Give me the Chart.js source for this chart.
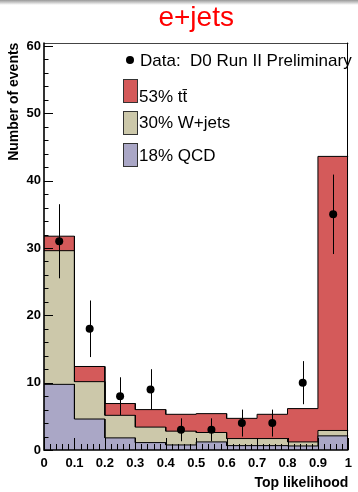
<!DOCTYPE html>
<html lang="en">
<head>
    <meta charset="UTF-8">
    <title>e+jets top likelihood</title>
    <script src="https://cdn.jsdelivr.net/npm/chart.js@4"></script>
    <style>
        body { margin: 0; background: #fff; font-family: "Liberation Sans", Arial, sans-serif; }
        .wrap { position: relative; width: 358px; height: 492px; }
        .shade { position: absolute; left: 0; top: 0; width: 358px; height: 5px; background: linear-gradient(#999, rgba(255,255,255,0)); }
        .leg { position: absolute; font-size: 17px; line-height: 17px; color: #000; white-space: pre; }
        .box { position: absolute; width: 13px; height: 22px; border: 1px solid #333; }
        .dot { position: absolute; width: 8px; height: 8px; border-radius: 50%; background: #000; }
    </style>
</head>
<body>
    <div class="wrap">
        <canvas id="lhChart"></canvas>
        <div class="shade"></div>
        <div class="dot" style="left:126px; top:56px;"></div>
        <div class="leg" style="left:140px; top:52px;">Data:  D0 Run II Preliminary</div>
        <div class="box" style="left:123px; top:79px; background:#d45a5a;"></div>
        <div class="leg" style="left:139px; top:88px;">53% tt&#772;</div>
        <div class="box" style="left:123px; top:111px; background:#ccc8aa;"></div>
        <div class="leg" style="left:139px; top:114px;">30% W+jets</div>
        <div class="box" style="left:123px; top:143px; background:#aaa7c6;"></div>
        <div class="leg" style="left:139px; top:147px;">18% QCD</div>
    </div>

    <script>
        // bins of the likelihood, 0..1 in steps of 0.1
        const binEdges = [0, 0.1, 0.2, 0.3, 0.4, 0.5, 0.6, 0.7, 0.8, 0.9, 1.0];
        // stacked contributions per bin (events)
        const qcd   = [9.75, 4.6, 1.8, 1.1, 0.75, 1.2, 0.65, 0.65, 0.6, 2.1];
        const wjets = [19.85, 5.55, 3.35, 2.3, 2.05, 1.4, 1.05, 1.05, 0.6, 0.8];
        const ttbar = [2.15, 2.25, 1.75, 2.6, 2.5, 2.8, 3.0, 3.6, 4.95, 40.7];
        // data points and their error bars
        const dataCounts = [31, 18, 8, 9, 3, 3, 4, 4, 10, 35];
        const dataErrors = [5.5, 4.2, 2.8, 3.0, 1.7, 1.7, 2.0, 2.0, 3.2, 5.9];
        const xTicks = [0, 0.1, 0.2, 0.3, 0.4, 0.5, 0.6, 0.7, 0.8, 0.9, 1];
        const yTicks = [0, 10, 20, 30, 40, 50, 60];

        const qcdTop = qcd.slice();
        const wTop = qcd.map((v, i) => v + wjets[i]);
        const ttTop = wTop.map((v, i) => v + ttbar[i]);

        function stepPoints(vals) {
            const pts = [];
            vals.forEach((v, i) => {
                pts.push({x: binEdges[i], y: v});
                pts.push({x: binEdges[i + 1], y: v});
            });
            return pts;
        }

        const dataPoints = dataCounts.map((n, i) => ({x: (binEdges[i] + binEdges[i + 1]) / 2, y: n}));

        Chart.defaults.font.family = '"Liberation Sans", Arial, sans-serif';
        Chart.defaults.color = '#000';

        // error bars go under the markers
        const errorBars = {
            id: 'errorBars',
            beforeDatasetDraw(chart, args) {
                if (args.index !== 0) return;
                const ctx = chart.ctx;
                const xs = chart.scales.x, ys = chart.scales.y;
                ctx.save();
                ctx.strokeStyle = '#000';
                ctx.lineWidth = 1;
                dataPoints.forEach((p, i) => {
                    const px = Math.round(xs.getPixelForValue(p.x)) + 0.5;
                    ctx.beginPath();
                    ctx.moveTo(px, ys.getPixelForValue(p.y + dataErrors[i]));
                    ctx.lineTo(px, ys.getPixelForValue(p.y - dataErrors[i]));
                    ctx.stroke();
                });
                ctx.restore();
            }
        };

        // ROOT style frame with ticks pointing inwards
        const frameTicks = {
            id: 'frameTicks',
            afterDraw(chart) {
                const ctx = chart.ctx;
                const a = chart.chartArea;
                const xs = chart.scales.x, ys = chart.scales.y;
                ctx.save();
                ctx.strokeStyle = '#000';
                ctx.lineWidth = 1;
                ctx.beginPath();
                for (let k = 0; k <= 50; k++) {
                    const px = Math.round(xs.getPixelForValue(k * 0.02)) + 0.5;
                    const len = k % 5 === 0 ? 12 : 6;
                    ctx.moveTo(px, a.bottom);
                    ctx.lineTo(px, a.bottom - len);
                }
                for (let k = 0; k <= 30; k++) {
                    const py = Math.round(ys.getPixelForValue(k * 2)) + 0.5;
                    const len = k % 5 === 0 ? 9 : 4.5;
                    ctx.moveTo(a.left, py);
                    ctx.lineTo(a.left + len, py);
                }
                ctx.stroke();
                ctx.strokeStyle = '#444';
                ctx.beginPath();
                ctx.moveTo(a.left, Math.round(a.top) + 0.5);
                ctx.lineTo(a.right, Math.round(a.top) + 0.5);
                ctx.stroke();
                ctx.strokeStyle = '#000';
                ctx.beginPath();
                ctx.moveTo(Math.round(a.right) - 0.5, a.top);
                ctx.lineTo(Math.round(a.right) - 0.5, a.bottom);
                ctx.stroke();
                ctx.lineWidth = 1.6;
                ctx.beginPath();
                ctx.moveTo(a.left, a.top);
                ctx.lineTo(a.left, a.bottom);
                ctx.lineTo(a.right, a.bottom);
                ctx.stroke();
                ctx.restore();
            }
        };

        const histStyle = {
            type: 'line',
            fill: 'origin',
            borderColor: '#000',
            borderWidth: 1,
            pointRadius: 0,
            tension: 0
        };

        const ctx = document.getElementById('lhChart').getContext('2d');
        const lhChart = new Chart(ctx, {
            type: 'line',
            data: {
                datasets: [
                    {
                        label: 'Data',
                        data: dataPoints,
                        showLine: false,
                        pointRadius: 4,
                        pointBackgroundColor: '#000',
                        pointBorderWidth: 0,
                        order: 0
                    },
                    Object.assign({label: '18% QCD', data: stepPoints(qcdTop), backgroundColor: '#aaa7c6', order: 1}, histStyle),
                    Object.assign({label: '30% W+jets', data: stepPoints(wTop), backgroundColor: '#ccc8aa', order: 2}, histStyle),
                    Object.assign({label: '53% tt', data: stepPoints(ttTop), backgroundColor: '#d45a5a', order: 3}, histStyle)
                ]
            },
            options: {
                responsive: true,
                maintainAspectRatio: false,
                animation: false,
                layout: { padding: { top: 0, right: 9, left: 0, bottom: 0 } },
                plugins: {
                    legend: { display: false },
                    tooltip: { enabled: false },
                    title: {
                        display: true,
                        text: 'e+jets',
                        color: '#ff0000',
                        fullSize: false,
                        font: { size: 28, weight: 'normal' },
                        padding: { top: 1, bottom: 8 }
                    }
                },
                scales: {
                    x: {
                        type: 'linear',
                        min: 0,
                        max: 1,
                        afterBuildTicks: s => { s.ticks = xTicks.map(v => ({value: v})); },
                        afterFit: s => { s.height = 42; },
                        grid: { display: false, drawTicks: false },
                        border: { display: false },
                        ticks: {
                            autoSkip: false,
                            maxRotation: 0,
                            padding: 6,
                            font: { size: 13, weight: 'bold' },
                            callback: v => String(v)
                        },
                        title: {
                            display: true,
                            text: 'Top likelihood',
                            align: 'end',
                            font: { size: 14, weight: 'bold' },
                            padding: { top: 0, bottom: 0 }
                        }
                    },
                    y: {
                        type: 'linear',
                        min: 0,
                        max: 60.5,
                        afterBuildTicks: s => { s.ticks = yTicks.map(v => ({value: v})); },
                        afterFit: s => { s.width = 44; },
                        grid: { display: false, drawTicks: false },
                        border: { display: false },
                        ticks: {
                            padding: 3,
                            font: { size: 13, weight: 'bold' }
                        },
                        title: {
                            display: true,
                            text: 'Number of events',
                            align: 'end',
                            font: { size: 14, weight: 'bold' },
                            padding: { top: 6, bottom: 0 }
                        }
                    }
                }
            },
            plugins: [errorBars, frameTicks]
        });
    </script>
</body>
</html>
